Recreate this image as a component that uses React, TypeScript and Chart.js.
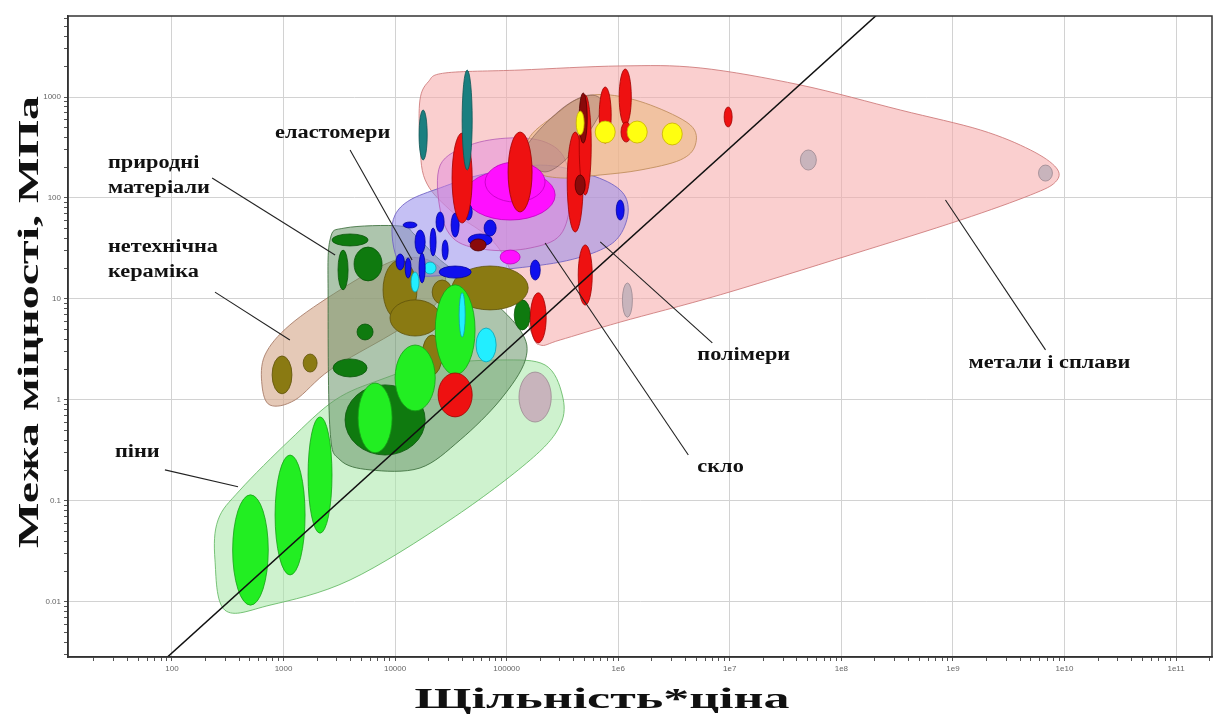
import React, { useEffect, useRef } from 'react';
import { Chart, registerables } from 'chart.js';

Chart.register(...registerables);

// ---------- axes ----------
const xRange = [11.7, 2.1e11];
const yRange = [0.00285, 6340];
const xTickValues = [1e2, 1e3, 1e4, 1e5, 1e6, 1e7, 1e8, 1e9, 1e10, 1e11];
const xTickLabels = ['100', '1000', '10000', '100000', '1e6', '1e7', '1e8', '1e9', '1e10', '1e11'];
const yTickValues = [0.01, 0.1, 1, 10, 100, 1000];
const yTickLabels = ['0.01', '0.1', '1', '10', '100', '1000'];
const xTitle = 'Щільність*ціна';
const yTitle = 'Межа міцності, МПа';

// guide line: strength = (density*price) / 32000
const guideLine = [
  { x: 10, y: 0.0003125 },
  { x: 1e9, y: 31250 },
];

// ---------- envelopes: [density*price, strength] ----------
const metalsEnvelope = [
  [16700, 933], [19800, 1410], [28100, 1730], [132000, 1850], [1.04e6, 2030], [5.43e6, 1940],
  [4.29e7, 1315], [3.38e8, 743], [1.77e9, 471], [4.95e9, 299], [8.47e9, 198], [8.3e9, 144],
  [4.95e9, 107], [1.17e9, 60.5], [1.2e8, 27.3], [8.2e6, 11], [1.04e6, 5.9], [302000, 3.93],
  [200000, 3.5], [163000, 4.93], [87500, 30.5], [31100, 76], [18600, 151], [16700, 375],
];
const foamsEnvelope = [
  [243, 0.0261], [259, 0.0649], [407, 0.128], [1140, 0.402], [2900, 1], [7330, 1.58],
  [20600, 2.22], [87500, 2.49], [221000, 2.22], [315000, 1.12], [302000, 0.565], [163000, 0.255],
  [31100, 0.0649], [3950, 0.0165], [757, 0.0093], [298, 0.0083],
];
const ceramicsEnvelope = [
  [641, 1.41], [682, 2.79], [1140, 5.53], [3210, 12.3], [9020, 23.2], [16700, 25.5],
  [25400, 20.3], [28100, 13.8], [20600, 7.78], [9020, 4.4], [2610, 1.98], [1270, 1], [757, 0.89],
];
const naturalEnvelope = [
  [2610, 38.4], [3560, 50.5], [11100, 52.8], [15100, 43], [25400, 24.3], [57800, 12.3],
  [132000, 4.93], [147000, 2.49], [87500, 1], [38300, 0.402], [16700, 0.212], [5970, 0.203],
  [3210, 0.255], [2610, 0.505], [2510, 9.8],
];
const polymersEnvelope = [
  [10000, 68], [13600, 95.5], [25400, 126], [57800, 169], [200000, 212], [561000, 169],
  [1.04e6, 120], [1.23e6, 76], [1.04e6, 43], [690000, 30.5], [302000, 23.2], [87500, 19.4],
  [31100, 17.3], [15100, 17.3], [10600, 24.3], [9400, 43],
];
const elastomersEnvelope = [
  [25400, 212], [47100, 335], [107000, 393], [221000, 358], [335000, 238], [372000, 95.5],
  [302000, 43], [163000, 32], [71100, 30.5], [34500, 38.4], [25400, 76],
];
const techCeramicsEnvelope = [
  [156000, 375], [272000, 664], [456000, 977], [847000, 1047], [1.94e6, 834], [4.43e6, 528],
  [4.91e6, 335], [3.6e6, 238], [1.57e6, 189], [690000, 169], [302000, 158], [180000, 189],
];
const glassEnvelope = [
  [147000, 299], [302000, 743], [561000, 1047], [719000, 778], [411000, 299], [221000, 181],
];

// ---------- material bubbles: [xMin, xMax, yMin, yMax] ----------
const naturalBubbles = [
  [3560, 18600, 0.285, 1.41], [2720, 5730, 33.5, 44], [4290, 7640, 15.1, 32.7],
  [3080, 3790, 12.3, 30.5], [4560, 6350, 3.93, 5.65], [2780, 5610, 1.69, 2.55],
  [117000, 163000, 4.93, 9.8],
];
const oliveBubbles = [
  [790, 1190, 1.15, 2.73], [1500, 2000, 1.89, 2.85], [7800, 15700, 6.2, 24.3],
  [32400, 156000, 7.8, 21.2], [9000, 25400, 4.3, 9.8], [17500, 26400, 1.77, 4.4],
  [21500, 32400, 8.9, 15.4],
];
const foamBubbles = [
  [350, 730, 0.0093, 0.115], [840, 1560, 0.0185, 0.285], [1660, 2720, 0.048, 0.68],
  [4660, 9400, 0.3, 1.47], [10000, 22900, 0.78, 3.5], [22900, 52100, 1.77, 13.8],
];
const cyanBubbles = [
  [53200, 80500, 2.38, 5.16], [13900, 16400, 11.7, 18.5], [37500, 42500, 4.2, 11.5],
  [18200, 23300, 17.7, 23.2],
];
const grayBubbles = [
  [129000, 251000, 0.605, 1.89], [4.29e7, 5.97e7, 189, 299], [5.85e9, 7.8e9, 147, 212],
  [1.09e6, 1.34e6, 6.6, 14.4],
];
const magentaBubbles = [
  [42500, 272000, 60.5, 189], [64100, 221000, 91.2, 227], [87500, 132000, 22.2, 30.5],
];
const blueBubbles = [
  [15100, 18600, 27.9, 48.2], [10200, 12100, 19.4, 27.9], [12300, 13900, 16.1, 25.5],
  [24800, 48100, 16.1, 21.2], [45200, 74100, 33.5, 44], [163000, 200000, 15.4, 24.3],
  [960000, 1.13e6, 60.5, 95.5], [23300, 27500, 46, 72.7], [31800, 37500, 41, 71],
  [20600, 23300, 26.7, 50.5], [11800, 15700, 50.5, 57.8], [41600, 49100, 60.5, 87.3],
  [62800, 80500, 42, 60.5], [26400, 29900, 24.3, 38.4], [16400, 18600, 14.4, 28.5],
];
const redBubbles = [
  [24300, 49100, 0.68, 1.85], [163000, 226000, 3.67, 11.5], [438000, 585000, 8.7, 34.3],
  [103000, 169000, 72.7, 450], [32400, 49100, 56.5, 440], [349000, 485000, 46, 450],
  [447000, 573000, 107, 1047], [676000, 865000, 350, 1256], [1.02e6, 1.31e6, 528, 1892],
  [8.9e6, 1.05e7, 505, 796], [1.06e6, 1.31e6, 358, 565],
];
const darkRedBubbles = [
  [447000, 527000, 350, 1096], [411000, 506000, 107, 169], [47100, 65500, 29.9, 39.3],
];
const tealBubbles = [
  [16400, 19400, 238, 743], [39900, 49100, 189, 1850],
];
const yellowBubbles = [
  [622000, 940000, 350, 578], [1.2e6, 1.82e6, 350, 578], [2.48e6, 3.75e6, 335, 553],
  [420000, 495000, 421, 726],
];

// ---------- annotations ----------
const annotationTexts = ['природні', 'матеріали', 'еластомери', 'нетехнічна', 'кераміка', 'піни', 'полімери', 'скло', 'метали і сплави'];
const annotationAnchors = [
  [26.7, 222], [26.7, 126], [840, 440], [26.7, 32.7], [26.7, 18.5], [30.8, 0.305],
  [5.12e6, 2.79], [5.12e6, 0.217], [1.38e9, 2.32],
];
const leaderLines = [
  [[229, 158], [2900, 27.3]],
  [[3950, 299], [14200, 24.3]],
  [[243, 11.7], [1140, 3.93]],
  [[86.5, 0.203], [391, 0.138]],
  [[6.97e6, 3.67], [690000, 36.7]],
  [[4.25e6, 0.285], [221000, 35.8]],
  [[6.76e9, 3.13], [8.57e8, 95.5]],
];

const envelopeLayers = [
  { pts: metalsEnvelope, fill: 'rgba(245,168,168,0.55)', stroke: 'rgba(205,120,120,0.85)' },
  { pts: foamsEnvelope, fill: 'rgba(165,232,165,0.55)', stroke: 'rgba(100,185,100,0.85)' },
  { pts: ceramicsEnvelope, fill: 'rgba(215,172,145,0.65)', stroke: 'rgba(165,120,100,0.85)' },
  { pts: naturalEnvelope, fill: 'rgba(105,150,105,0.55)', stroke: 'rgba(60,110,60,0.85)' },
  { pts: polymersEnvelope, fill: 'rgba(150,140,235,0.55)', stroke: 'rgba(110,95,195,0.85)' },
  { pts: elastomersEnvelope, fill: 'rgba(225,130,225,0.45)', stroke: 'rgba(180,90,180,0.8)' },
  { pts: techCeramicsEnvelope, fill: 'rgba(235,185,130,0.6)', stroke: 'rgba(190,140,90,0.85)' },
  { pts: glassEnvelope, fill: 'rgba(140,100,95,0.35)', stroke: 'rgba(120,85,80,0.6)' },
];

const bubbleLayers = [
  { items: naturalBubbles, fill: '#0f7a0f', stroke: '#0a560a' },
  { items: oliveBubbles, fill: '#8a7a12', stroke: '#5e520a' },
  { items: foamBubbles, fill: '#22ee22', stroke: '#15a015' },
  { items: cyanBubbles, fill: '#22eeff', stroke: '#10a0b0' },
  { items: grayBubbles, fill: '#c8b4bc', stroke: '#9a8890' },
  { items: magentaBubbles, fill: '#ff10ff', stroke: '#c000c0' },
  { items: blueBubbles, fill: '#1010ee', stroke: '#0000a0' },
  { items: redBubbles, fill: '#ee1111', stroke: '#a00000' },
  { items: darkRedBubbles, fill: '#8a0a0a', stroke: '#500000' },
  { items: tealBubbles, fill: '#1a7f80', stroke: '#0e5556' },
  { items: yellowBubbles, fill: '#ffff10', stroke: '#c8b000' },
];

const isDecade = (v: number) => Math.abs(Math.log10(v) - Math.round(Math.log10(v))) < 1e-6;

function logTicks(min: number, max: number) {
  const out: { value: number }[] = [];
  for (let e = Math.floor(Math.log10(min)); e <= Math.ceil(Math.log10(max)); e++) {
    for (let m = 1; m <= 9; m++) {
      const v = m * Math.pow(10, e);
      if (v >= min && v <= max) out.push({ value: v });
    }
  }
  return out;
}

function labelFor(v: number, values: number[], labels: string[]) {
  const i = values.findIndex((t) => Math.abs(Math.log10(t) - Math.log10(v)) < 1e-6);
  return i >= 0 ? labels[i] : '';
}

function smoothClosed(ctx: CanvasRenderingContext2D, pts: number[][]) {
  const n = pts.length;
  ctx.moveTo(pts[0][0], pts[0][1]);
  for (let i = 0; i < n; i++) {
    const p0 = pts[(i - 1 + n) % n], p1 = pts[i], p2 = pts[(i + 1) % n], p3 = pts[(i + 2) % n];
    ctx.bezierCurveTo(
      p1[0] + (p2[0] - p0[0]) / 6, p1[1] + (p2[1] - p0[1]) / 6,
      p2[0] - (p3[0] - p1[0]) / 6, p2[1] - (p3[1] - p1[1]) / 6,
      p2[0], p2[1]
    );
  }
  ctx.closePath();
}

function stretchedText(ctx: CanvasRenderingContext2D, text: string, x: number, y: number, sx: number) {
  ctx.save();
  ctx.translate(x, y);
  ctx.scale(sx, 1);
  ctx.fillText(text, 0, 0);
  ctx.restore();
}

const shapesPlugin = {
  id: 'ashbyShapes',
  beforeDatasetsDraw(chart: any) {
    const { ctx, chartArea, scales } = chart;
    const xs = scales.x, ys = scales.y;
    ctx.save();
    ctx.beginPath();
    ctx.rect(chartArea.left, chartArea.top, chartArea.right - chartArea.left, chartArea.bottom - chartArea.top);
    ctx.clip();
    envelopeLayers.forEach((layer) => {
      const pts = layer.pts.map((p) => [xs.getPixelForValue(p[0]), ys.getPixelForValue(p[1])]);
      ctx.beginPath();
      smoothClosed(ctx, pts);
      ctx.fillStyle = layer.fill;
      ctx.fill();
      ctx.lineWidth = 1;
      ctx.strokeStyle = layer.stroke;
      ctx.stroke();
    });
    bubbleLayers.forEach((layer) => {
      layer.items.forEach((b) => {
        const x1 = xs.getPixelForValue(b[0]), x2 = xs.getPixelForValue(b[1]);
        const y1 = ys.getPixelForValue(b[2]), y2 = ys.getPixelForValue(b[3]);
        ctx.beginPath();
        ctx.ellipse((x1 + x2) / 2, (y1 + y2) / 2, Math.abs(x2 - x1) / 2, Math.abs(y2 - y1) / 2, 0, 0, Math.PI * 2);
        ctx.fillStyle = layer.fill;
        ctx.fill();
        ctx.lineWidth = 0.8;
        ctx.strokeStyle = layer.stroke;
        ctx.stroke();
      });
    });
    ctx.restore();
  },
  afterDatasetsDraw(chart: any) {
    const { ctx, scales } = chart;
    const xs = scales.x, ys = scales.y;
    ctx.save();
    ctx.strokeStyle = '#222';
    ctx.lineWidth = 1.1;
    leaderLines.forEach((l) => {
      ctx.beginPath();
      ctx.moveTo(xs.getPixelForValue(l[0][0]), ys.getPixelForValue(l[0][1]));
      ctx.lineTo(xs.getPixelForValue(l[1][0]), ys.getPixelForValue(l[1][1]));
      ctx.stroke();
    });
    ctx.fillStyle = '#111';
    ctx.font = 'bold 18px "Liberation Serif"';
    ctx.textBaseline = 'middle';
    ctx.textAlign = 'left';
    annotationTexts.forEach((t, i) => {
      const a = annotationAnchors[i];
      stretchedText(ctx, t, xs.getPixelForValue(a[0]), ys.getPixelForValue(a[1]), 1.24);
    });
    ctx.restore();
  },
  afterDraw(chart: any) {
    const { ctx, chartArea } = chart;
    ctx.save();
    ctx.strokeStyle = '#333';
    ctx.lineWidth = 1.5;
    ctx.strokeRect(chartArea.left, chartArea.top, chartArea.right - chartArea.left, chartArea.bottom - chartArea.top);
    ctx.fillStyle = '#111';
    ctx.font = 'bold 30px "Liberation Serif"';
    ctx.textAlign = 'center';
    ctx.textBaseline = 'middle';
    // x title
    let w = ctx.measureText(xTitle).width;
    ctx.save();
    ctx.translate(602, 700);
    ctx.scale(375 / w, 1);
    ctx.fillText(xTitle, 0, 0);
    ctx.restore();
    // y title
    w = ctx.measureText(yTitle).width;
    ctx.save();
    ctx.translate(30, 322);
    ctx.rotate(-Math.PI / 2);
    ctx.scale(452 / w, 1);
    ctx.fillText(yTitle, 0, 0);
    ctx.restore();
    ctx.restore();
  },
};

export default function App() {
  const ref = useRef<HTMLCanvasElement>(null);
  useEffect(() => {
    if (!ref.current) return;
    const gridColor = (c: any) => (c.tick && isDecade(c.tick.value) ? '#d2d2d2' : 'rgba(0,0,0,0)');
    const chart = new Chart(ref.current, {
      type: 'scatter',
      data: {
        datasets: [
          {
            data: guideLine,
            showLine: true,
            borderColor: '#111',
            borderWidth: 1.5,
            pointRadius: 0,
            fill: false,
          } as any,
        ],
      },
      options: {
        animation: false,
        responsive: false,
        maintainAspectRatio: false,
        layout: { padding: { top: 16, right: 6, left: 0, bottom: 0 } },
        plugins: { legend: { display: false }, tooltip: { enabled: false } },
        scales: {
          x: {
            type: 'logarithmic',
            min: xRange[0],
            max: xRange[1],
            afterFit: (s: any) => { s.height = 58; },
            afterBuildTicks: (s: any) => { s.ticks = logTicks(xRange[0], xRange[1]); },
            ticks: {
              autoSkip: false,
              maxRotation: 0,
              padding: 3,
              color: '#666',
              font: { size: 8, family: 'Liberation Sans' },
              callback: (v: any) => labelFor(Number(v), xTickValues, xTickLabels),
            },
            grid: { color: gridColor, tickColor: '#555', tickLength: 4, lineWidth: 1 },
            border: { color: '#333', width: 1.5 },
          } as any,
          y: {
            type: 'logarithmic',
            min: yRange[0],
            max: yRange[1],
            afterFit: (s: any) => { s.width = 68; },
            afterBuildTicks: (s: any) => { s.ticks = logTicks(yRange[0], yRange[1]); },
            ticks: {
              autoSkip: false,
              padding: 3,
              color: '#666',
              font: { size: 8, family: 'Liberation Sans' },
              callback: (v: any) => labelFor(Number(v), yTickValues, yTickLabels),
            },
            grid: { color: gridColor, tickColor: '#555', tickLength: 4, lineWidth: 1 },
            border: { color: '#333', width: 1.5 },
          } as any,
        },
      },
      plugins: [shapesPlugin],
    });
    return () => chart.destroy();
  }, []);
  return (
    <div style={{ position: 'fixed', left: 0, top: 0, width: 1218, height: 715, background: '#fff' }}>
      <canvas ref={ref} width={1218} height={715} style={{ width: 1218, height: 715, display: 'block' }} />
    </div>
  );
}
